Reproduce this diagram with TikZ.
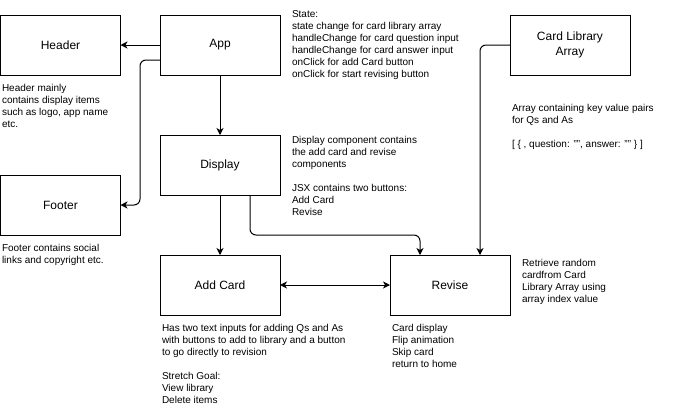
\documentclass[tikz,border=0pt]{standalone}
\usepackage{fontspec}
\setmainfont{Liberation Sans}
\usetikzlibrary{arrows.meta}
\tikzset{
    compnode/.style = {
        align=center,
        text centered,
        rectangle,
        draw=black,
        line width=1pt,
        minimum width=120pt,
        minimum height=60pt,
        inner sep=0pt,
        outer sep=0pt,
        font=\fontsize{12}{14.4}\selectfont
    },
    notetext/.style = {
        align=left,
        anchor=north west,
        inner sep=0pt,
        outer sep=0pt,
        font=\fontsize{10}{12}\selectfont
    },
    link/.style = {
        draw=black,
        line width=1pt,
        rounded corners=6pt,
        -{Stealth[length=7pt,width=7pt,inset=2pt]}
    },
    twowaylink/.style = {
        link,
        {Stealth[length=7pt,width=7pt,inset=2pt]}-{Stealth[length=7pt,width=7pt,inset=2pt]}
    }
}

\begin{document}
\begin{tikzpicture}[x=1pt,y=-1pt]
            \useasboundingbox (0,0) rectangle (681,416);
            \node [compnode] (header) at (60.5,45) {Header};
            \node [compnode] (footer) at (60.5,205) {Footer};
            \node [compnode] (app) at (220,45) {App};
            \node [compnode] (display) at (220,165) {Display};
            \node [compnode] (addcard) at (220,285) {Add Card};
            \node [compnode] (revise) at (450,285) {Revise};
            \node [compnode] (library) at (570,45) {Card Library\\Array};

            \node [notetext] (statenote) at (292,11) {State:\\state change for card library array\\handleChange for card question input\\handleChange for card answer input\\onClick for add Card button\\onClick for start revising button};
            \node [notetext] (headernote) at (2,84) {Header mainly\\contains display items\\such as logo, app name\\etc.};
            \node [notetext] (footernote) at (2,244) {Footer contains social\\links and copyright etc.};
            \node [notetext] (displaynote) at (292,136) {Display component contains\\the add card and revise\\components\\[12pt]JSX contains two buttons:\\Add Card\\Revise};
            \node [notetext] (librarynote) at (512,104) {Array containing key value pairs\\for Qs and As\\[12pt][ \{ , question: "", answer: "" \} ]};
            \node [notetext] (retrievenote) at (522,259) {Retrieve random\\cardfrom Card\\Library Array using\\array index value};
            \node [notetext] (addcardnote) at (162,324) {Has two text inputs for adding Qs and As\\with buttons to add to library and a button\\to go directly to revision\\[12pt]Stretch Goal:\\View library\\Delete items};
            \node [notetext] (revisenote) at (392,324) {Card display\\Flip animation\\Skip card\\return to home};

            \draw [link] (app) -- (header);
            \draw [link] ([yshift=-15pt]app.west) -- ++(-20,0) |- (footer.east);
            \draw [link] (app) -- (display);
            \draw [link] (display) -- (addcard);
            \draw [link] ([xshift=30pt]display.south) -- ++(0,40) -| ([xshift=-30pt]revise.north);
            \draw [link] (library.west) -| ([xshift=30pt]revise.north);
            \draw [twowaylink] (addcard) -- (revise);
\end{tikzpicture}
\end{document}
